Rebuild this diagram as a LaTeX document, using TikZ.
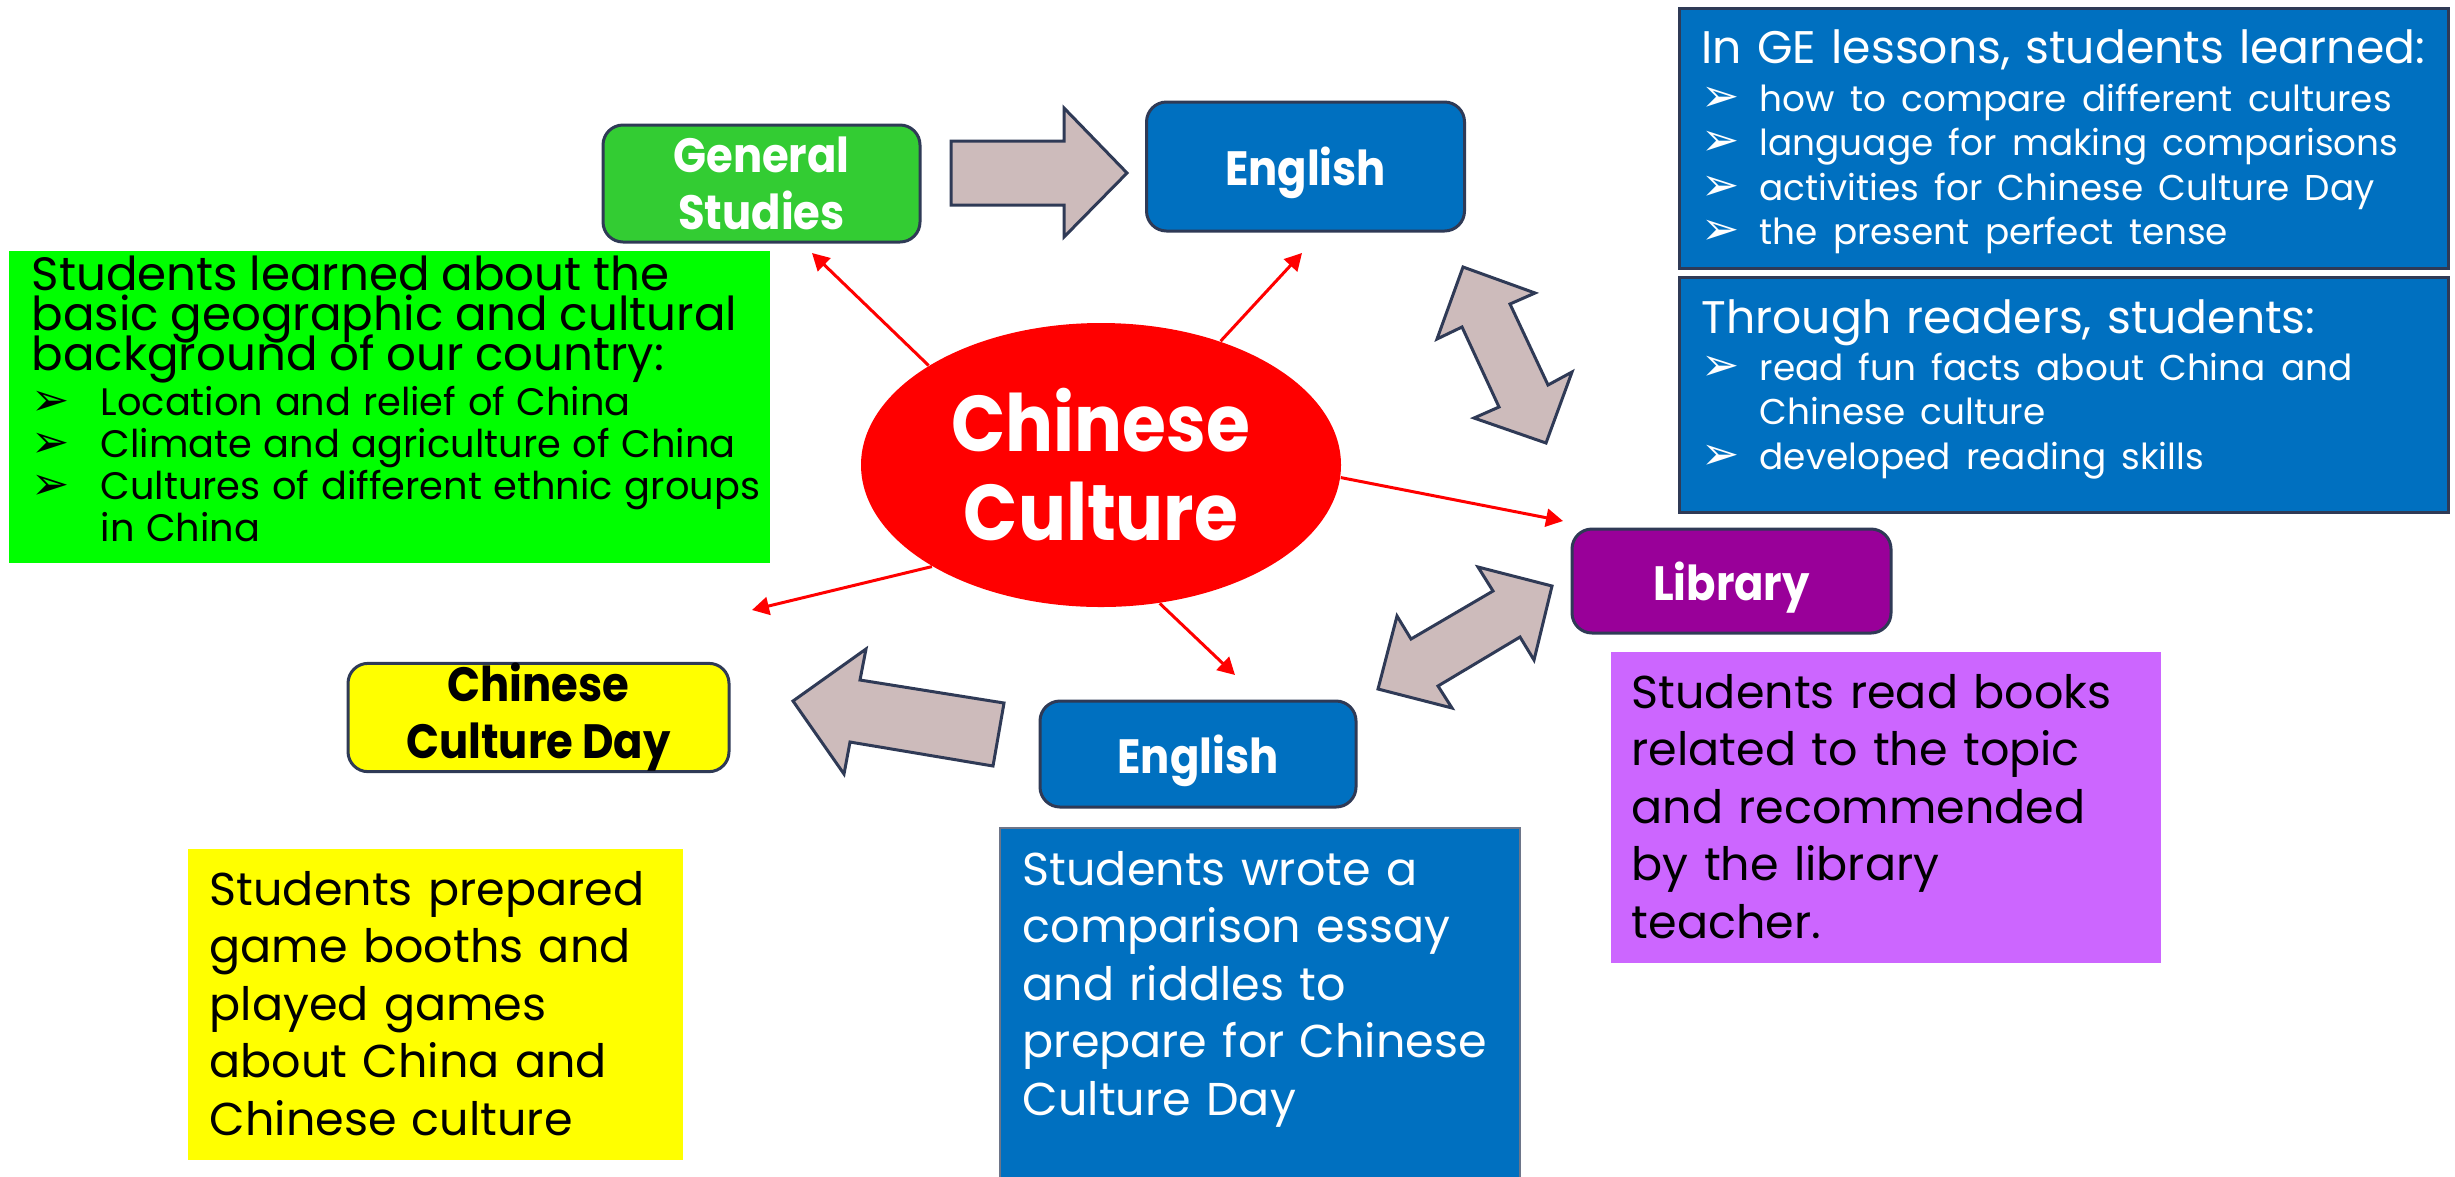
\documentclass[tikz,border=0pt]{standalone}
\usepackage{fontspec}
\setmainfont{Poppins}
\newfontfamily\labelfamily{Poppins}[FakeStretch=0.9]
\newfontfamily\dingfamily{DejaVu Sans}
\usetikzlibrary{arrows.meta,shapes.geometric}

\definecolor{gsgreen}{HTML}{33CC33}
\definecolor{notegreen}{HTML}{00FF00}
\definecolor{engblue}{HTML}{0070C0}
\definecolor{libpurple}{HTML}{990099}
\definecolor{notelilac}{HTML}{CC66FF}
\definecolor{noteyellow}{HTML}{FFFF00}
\definecolor{outline}{HTML}{2F3A56}
\definecolor{arrowfill}{HTML}{CDBBBB}

% font sizes (1 unit of the picture = 0.1mm)
\newcommand{\bodysize}{\fontsize{13.1pt}{16.4pt}\selectfont}
\newcommand{\headsize}{\fontsize{13pt}{16pt}\selectfont}
\newcommand{\itemsize}{\fontsize{10.2pt}{12.65pt}\selectfont}
\newcommand{\geohead}{\fontsize{13.3pt}{11.4pt}\selectfont\lineskiplimit=-\maxdimen}
\newcommand{\geoitem}{\fontsize{10.9pt}{11.95pt}\selectfont}
\newcommand{\tagfont}{\labelfamily\bfseries\fontsize{13.7pt}{16.2pt}\selectfont}
\newcommand{\hubfont}{\labelfamily\bfseries\fontsize{22.5pt}{25.3pt}\selectfont}
\newcommand{\bul}[1]{\makebox[#1][l]{\dingfamily\fontsize{13pt}{13pt}\selectfont\symbol{"27A2}}}

\begin{document}
\begin{tikzpicture}[x=0.1mm, y=-0.1mm,
    tag/.style={draw=outline, line width=0.3mm, rounded corners=2mm, align=center,
      text=white, font=\tagfont, inner sep=0pt},
    panel/.style={anchor=north west, inner sep=0pt, outer sep=0pt},
    note/.style={anchor=base west, inner sep=0pt, align=left},
    spoke/.style={red, line width=0.3mm, -{Triangle[length=1.7mm, width=1.8mm]}},
    block/.style={fill=arrowfill, draw=outline, line width=0.3mm, line join=miter}]
  \fill[white] (0,0) rectangle (2455,1176);
  \useasboundingbox (0,0) rectangle (2455,1176);

  % note panels
  \node[panel, fill=notegreen, minimum width=76.1mm, minimum height=31.2mm] (geobox) at (9,251) {};
  \node[panel, fill=engblue, draw=outline, line width=0.3mm, minimum width=76.9mm, minimum height=26mm] (gebox) at (1679,8) {};
  \node[panel, fill=engblue, draw=outline, line width=0.3mm, minimum width=76.9mm, minimum height=23.5mm] (readbox) at (1679,277) {};
  \node[panel, fill=notelilac, minimum width=55mm, minimum height=31.1mm] (libbox) at (1611,652) {};
  \node[panel, fill=noteyellow, minimum width=49.5mm, minimum height=31.1mm] (gamebox) at (188,849) {};
  \node[panel, fill=engblue, draw=outline!70, line width=0.2mm, minimum width=52mm, minimum height=40mm] (essaybox) at (1000,828) {};

  % panel texts
  \node[note, text width=74mm] (geotext) at (31,290) {{\geohead Students learned about the\\
      basic geographic and cultural\\ background of our country:\par}\vspace{0.3mm}
    {\geoitem \bul{6.9mm}Location and relief of China\\
      \bul{6.9mm}Climate and agriculture of China\\
      \bul{6.9mm}\makebox[64.8mm][s]{Cultures of different ethnic groups}\\
      \hspace*{6.9mm}in China\par}};
  \node[note, text=white, text width=75mm, font=\headsize] (getext) at (1701,63) {In GE lessons, students learned:\par\vspace{0.4mm}
    {\itemsize \bul{5.8mm}how to compare different cultures\\
      \bul{5.8mm}language for making comparisons\\
      \bul{5.8mm}activities for Chinese Culture Day\\
      \bul{5.8mm}the present perfect tense\par}};
  \node[note, text=white, text width=75mm, font=\headsize] (readtext) at (1701,333) {Through readers, students:\par\vspace{0.3mm}
    {\itemsize \bul{5.8mm}read fun facts about China and\\
      \hspace*{5.8mm}Chinese culture\\
      \bul{5.8mm}developed reading skills\par}};
  \node[note, text width=52mm, font=\bodysize] (libtext) at (1631,708) {Students read books\\
    related to the topic\\ and recommended\\ by the library\\ teacher.};
  \node[note, text width=47mm, font=\bodysize] (gametext) at (209,905) {Students prepared\\
    game booths and\\ played games\\ about China and\\ Chinese culture};
  \node[note, text=white, text width=49mm, font=\bodysize] (essaytext) at (1022,885) {Students wrote a\\
    comparison essay\\ and riddles to\\ prepare for Chinese\\ Culture Day};

  % subject tags
  \node[tag, fill=gsgreen, minimum width=31.7mm, minimum height=11.7mm] (gs) at (761.5,183.5) {General\\Studies};
  \node[tag, fill=engblue, text depth=0pt, minimum width=31.8mm, minimum height=12.9mm] (engtop) at (1305.5,166.5) {English};
  \node[tag, fill=libpurple, text depth=0pt, minimum width=31.9mm, minimum height=10.4mm] (library) at (1731.5,581) {Library};
  \node[tag, fill=engblue, text depth=0pt, minimum width=31.6mm, minimum height=10.6mm] (engbot) at (1198,754) {English};
  \node[tag, fill=noteyellow, text=black, minimum width=38.1mm, minimum height=10.7mm] (ccd) at (538.5,717.5) {Chinese\\Culture Day};

  % block arrows
  \draw[block] (951,141) -- (1064,141) -- (1064,108) -- (1127,173) -- (1064,237) -- (1064,205) -- (951,205) -- cycle;
  \draw[block] (1463,267) -- (1535,293) -- (1510,304) -- (1548,385) -- (1572,372) -- (1546,443)
    -- (1474,418) -- (1499,407) -- (1462,327) -- (1437,339) -- cycle;
  \draw[block] (1552,586) -- (1534,660) -- (1520,637) -- (1438,686) -- (1452,708) -- (1378,689)
    -- (1397,616) -- (1411,639) -- (1493,591) -- (1478,567) -- cycle;
  \draw[block] (793,701) -- (866,649) -- (860,680) -- (1004,703) -- (993,766) -- (850,742) -- (844,774) -- cycle;

  % hub
  \node[ellipse, fill=red, text=white, font=\hubfont, align=center, inner sep=0pt,
    minimum width=48mm, minimum height=28.4mm] (culture) at (1101,465) {Chinese\\Culture};

  % spokes
  \coordinate (gstip) at (812,253);
  \coordinate (engtoptip) at (1302,253);
  \coordinate (librarytip) at (1563,521);
  \coordinate (engbottip) at (1235,675);
  \coordinate (ccdtip) at (752,610);
  \draw[spoke] (culture.150) -- (gstip);
  \draw[spoke] (culture.46) -- (engtoptip);
  \draw[spoke] (culture.-3) -- (librarytip);
  \draw[spoke] (culture.-67) -- (engbottip);
  \draw[spoke] (culture.211) -- (ccdtip);
\end{tikzpicture}
\end{document}
